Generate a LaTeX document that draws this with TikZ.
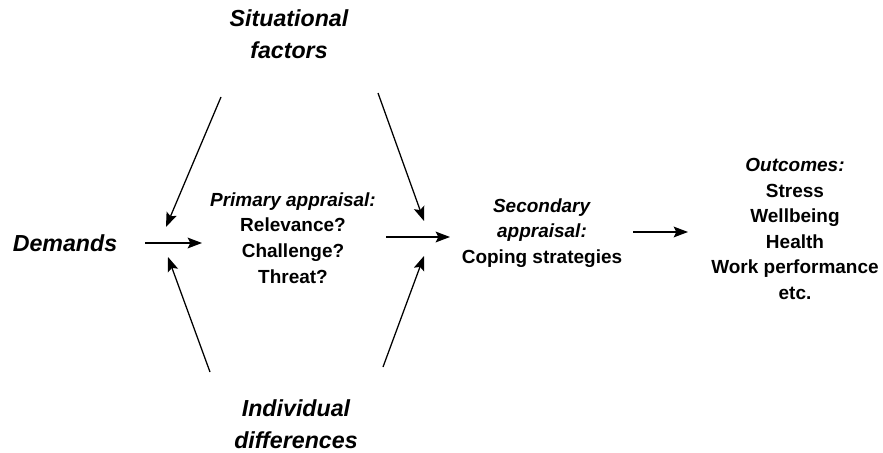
\documentclass[tikz,border=0pt]{standalone}
\usepackage{fontspec}
\setmainfont{Liberation Sans}
\usetikzlibrary{arrows.meta}

\begin{document}
\begin{tikzpicture}[
    x=0.025cm, y=-0.025cm,
    bigtext/.style={align=center, font=\fontsize{16.5}{22.7}\selectfont\bfseries\itshape},
    smalltext/.style={align=center, font=\fontsize{13.5}{18.2}\selectfont\bfseries},
    pointer/.style={line width=0.9pt, -{Stealth[length=3.6mm,width=2.7mm,inset=0.7mm]}}
]
    \useasboundingbox (0,0) rectangle (883,453);

    \node[bigtext]   (sit) at (289,34)   {Situational\\factors};
    \node[bigtext]   (dem) at (65,243)   {Demands};
    \node[bigtext]   (ind) at (296,424)  {Individual\\differences};
    \node[smalltext] (pri) at (293,238)  {\textit{Primary appraisal:}\\Relevance?\\Challenge?\\Threat?};
    \node[smalltext] (sec) at (542,233)  {\textit{Secondary}\\\textit{appraisal:}\\Coping strategies};
    \node[smalltext] (out) at (795,229)  {\textit{Outcomes:}\\Stress\\Wellbeing\\Health\\Work performance\\etc.};

    % free ends of the arrows
    \coordinate (sitL) at (221,97);   \coordinate (sitLtip) at (166,227);
    \coordinate (indL) at (210,372);  \coordinate (indLtip) at (168,257);
    \coordinate (demA) at (145,243);  \coordinate (demAtip) at (202,243);
    \coordinate (sitR) at (378,93);   \coordinate (sitRtip) at (424,221);
    \coordinate (indR) at (383,367);  \coordinate (indRtip) at (424,256);
    \coordinate (priA) at (386,237);  \coordinate (priAtip) at (450,237);
    \coordinate (secA) at (633,232);  \coordinate (secAtip) at (688,232);

    \draw[pointer] (sitL) -- (sitLtip);
    \draw[pointer] (indL) -- (indLtip);
    \draw[pointer] (demA) -- (demAtip);
    \draw[pointer] (sitR) -- (sitRtip);
    \draw[pointer] (indR) -- (indRtip);
    \draw[pointer] (priA) -- (priAtip);
    \draw[pointer] (secA) -- (secAtip);
\end{tikzpicture}
\end{document}
